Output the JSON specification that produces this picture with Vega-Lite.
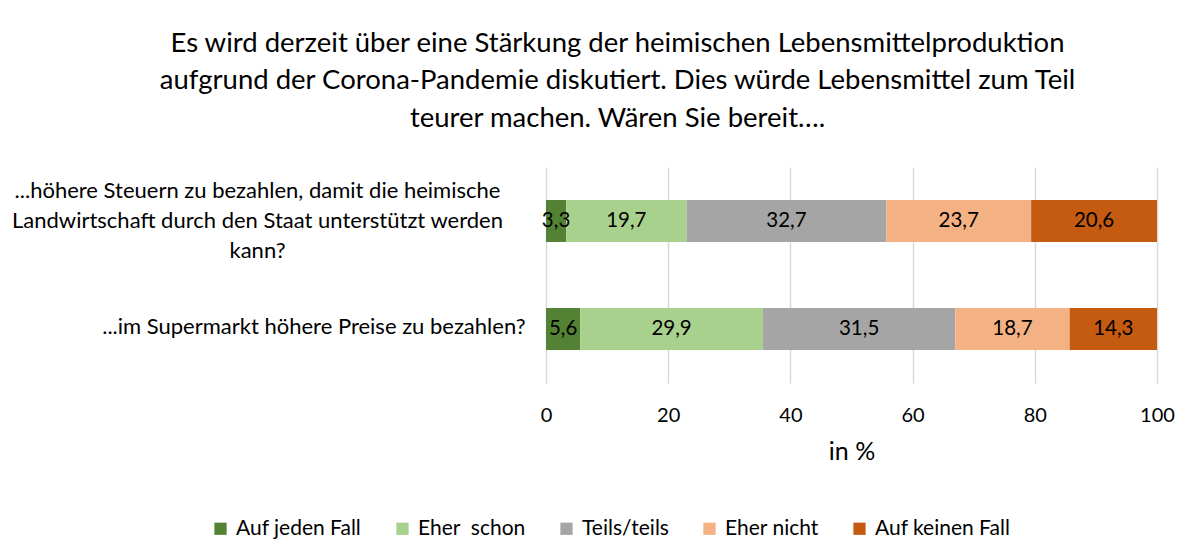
{
  "$schema": "https://vega.github.io/schema/vega-lite/v6.json",
  "autosize": {"type": "none"},
  "width": 611,
  "height": 216,
  "padding": {"left": 546, "top": 167, "right": 44, "bottom": 177},
  "background": "white",
  "config": {
    "font": "Lato",
    "view": {"stroke": null},
    "locale": {"number": {"decimal": ",", "thousands": ".", "grouping": [3], "currency": ["", " €"]}}
  },
  "title": {
    "text": ["Es wird derzeit über eine Stärkung der heimischen Lebensmittelproduktion", "aufgrund der Corona-Pandemie diskutiert. Dies würde Lebensmittel zum Teil", "teurer machen. Wären Sie bereit…."],
    "font": "Lato",
    "fontSize": 27.5,
    "fontWeight": "normal",
    "color": "#000000",
    "lineHeight": 37.5,
    "anchor": "middle",
    "dx": -234,
    "offset": 35
  },
  "data": {
    "values": [
      {"frage": "Steuern", "antwort": "Auf jeden Fall", "ord": 1, "wert": 3.3},
      {"frage": "Steuern", "antwort": "Eher  schon", "ord": 2, "wert": 19.7},
      {"frage": "Steuern", "antwort": "Teils/teils", "ord": 3, "wert": 32.7},
      {"frage": "Steuern", "antwort": "Eher nicht", "ord": 4, "wert": 23.7},
      {"frage": "Steuern", "antwort": "Auf keinen Fall", "ord": 5, "wert": 20.6},
      {"frage": "Preise", "antwort": "Auf jeden Fall", "ord": 1, "wert": 5.6},
      {"frage": "Preise", "antwort": "Eher  schon", "ord": 2, "wert": 29.9},
      {"frage": "Preise", "antwort": "Teils/teils", "ord": 3, "wert": 31.5},
      {"frage": "Preise", "antwort": "Eher nicht", "ord": 4, "wert": 18.7},
      {"frage": "Preise", "antwort": "Auf keinen Fall", "ord": 5, "wert": 14.3}
    ]
  },
  "encoding": {
    "y": {
      "field": "frage",
      "type": "nominal",
      "sort": ["Steuern", "Preise"],
      "scale": {"paddingInner": 0.6, "paddingOuter": 0.3},
      "axis": {
        "title": null,
        "ticks": false,
        "domain": false,
        "labelFontSize": 22,
        "labelColor": "#000000",
        "labelLineHeight": 30,
        "labelLimit": 0,
        "labelAlign": {"condition": {"test": "datum.value == 'Steuern'", "value": "center"}, "value": "right"},
        "labelPadding": {"condition": {"test": "datum.value == 'Steuern'", "value": 289}, "value": 21},
        "labelOffset": {"condition": {"test": "datum.value == 'Steuern'", "value": -30}, "value": -2},
        "labelExpr": "datum.value == 'Steuern' ? ['...höhere Steuern zu bezahlen, damit die heimische', 'Landwirtschaft durch den Staat unterstützt werden', 'kann?'] : '...im Supermarkt höhere Preise zu bezahlen?'"
      }
    },
    "x": {
      "field": "wert",
      "type": "quantitative",
      "stack": "zero",
      "scale": {"domain": [0, 100]},
      "axis": {
        "title": "in %",
        "titleFontSize": 25,
        "titleFontWeight": "normal",
        "titleColor": "#000000",
        "titlePadding": 14,
        "values": [0, 20, 40, 60, 80, 100],
        "labelFontSize": 20,
        "labelColor": "#000000",
        "labelPadding": 22,
        "labelFlush": false,
        "labelOverlap": false,
        "ticks": false,
        "domain": false,
        "grid": true,
        "gridColor": "#D9D9D9",
        "gridWidth": 1.5
      }
    }
  },
  "layer": [
    {
      "mark": {"type": "bar", "size": 42},
      "encoding": {
        "color": {
          "field": "antwort",
          "type": "nominal",
          "sort": ["Auf jeden Fall", "Eher  schon", "Teils/teils", "Eher nicht", "Auf keinen Fall"],
          "scale": {
            "domain": ["Auf jeden Fall", "Eher  schon", "Teils/teils", "Eher nicht", "Auf keinen Fall"],
            "range": ["#548235", "#A9D18E", "#A5A5A5", "#F4B183", "#C55A11"]
          },
          "legend": {
            "title": null,
            "orient": "none",
            "direction": "horizontal",
            "legendX": -336,
            "legendY": 351,
            "symbolType": "square",
            "symbolSize": 150,
            "symbolStrokeWidth": 0,
            "labelFontSize": 21,
            "labelColor": "#000000",
            "labelOffset": 5,
            "columnPadding": 30,
            "labelLimit": 0,
            "labelExpr": "datum.label == 'Eher  schon' ? 'Eher \u00a0schon' : datum.label"
          }
        },
        "order": {"field": "ord", "type": "quantitative"}
      }
    },
    {
      "mark": {"type": "text", "fontSize": 20.5, "color": "#000000"},
      "encoding": {
        "x": {"field": "wert", "type": "quantitative", "stack": "zero", "bandPosition": 0.5},
        "text": {"field": "wert", "type": "quantitative", "format": ".1f"},
        "order": {"field": "ord", "type": "quantitative"}
      }
    }
  ]
}
